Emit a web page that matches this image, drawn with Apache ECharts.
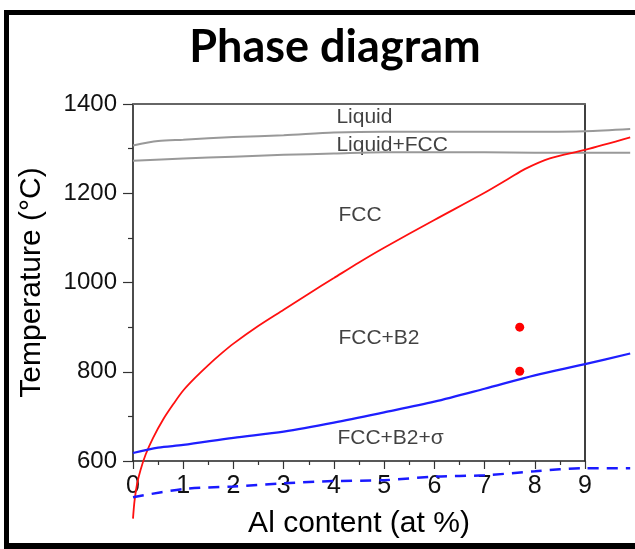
<!DOCTYPE html>
<html>
<head>
<meta charset="utf-8">
<script src="https://cdn.jsdelivr.net/npm/echarts@6/dist/echarts.min.js"></script>
<style>
  html, body { margin: 0; padding: 0; background: #fff; }
  #chart { width: 635px; height: 549px; }
</style>
</head>
<body>
<div id="chart"></div>
<script>
// x = Al content (at %), y = temperature (°C)
const liquidus = [[0, 1307], [0.5, 1317], [1, 1320], [2, 1326], [3, 1330], [4, 1336], [5, 1338], [6, 1338], [7, 1338], [8, 1338], [9, 1339], [9.9, 1344]];
const solidus = [[0, 1273], [1, 1278], [2, 1282], [3, 1286], [4, 1289], [5, 1292], [6, 1292], [7, 1292], [8, 1291], [9, 1291], [9.9, 1291]];
const b2Solvus = [[0, 471], [0.03, 510], [0.08, 548], [0.15, 580], [0.25, 614], [0.4, 652], [0.6, 693], [0.8, 727], [1, 758], [1.25, 788], [1.5, 815], [1.75, 840], [2, 863], [2.5, 903], [3, 939], [3.5, 975], [4, 1010], [4.5, 1045], [5, 1078], [6, 1140], [7, 1201], [7.5, 1234], [7.8, 1254], [8.3, 1278], [9, 1297], [9.9, 1325]];
const sigmaSolvus = [[0, 618], [0.5, 630], [1, 636], [2, 652], [3, 666], [4, 686], [5, 709], [6, 733], [7, 762], [8, 792], [9, 817], [9.9, 841]];
const lowerDashed = [[0, 519], [1, 537], [2, 543], [3, 550], [4, 555], [5, 557], [6, 565], [7, 568], [8, 577], [9, 584], [9.9, 584]];
const samples = [[7.7, 900], [7.7, 801]];
const regionLabels = [
  { name: 'Liquid', value: [4.05, 1371] },
  { name: 'Liquid+FCC', value: [4.05, 1308] },
  { name: 'FCC', value: [4.09, 1151] },
  { name: 'FCC+B2', value: [4.09, 875] },
  { name: 'FCC+B2+σ', value: [4.07, 651] }
];
const xTicks = [0, 1, 2, 3, 4, 5, 6, 7, 8, 9];
const yTicks = [600, 800, 1000, 1200, 1400];

const font = '"Liberation Sans", Arial, sans-serif';
const chart = echarts.init(document.getElementById('chart'));

// the curves run past x = 9, so they sit on a second, wider grid with the same scale
const plotLeft = 133, plotRight = 585, xMax = 9, xMaxData = 9.9;
const wideRight = 635 - (plotLeft + (plotRight - plotLeft) * xMaxData / xMax);

function curve(data, color, width, type) {
  return {
    type: 'line',
    xAxisIndex: 2,
    yAxisIndex: 2,
    data: data,
    smooth: 0.3,
    showSymbol: false,
    clip: false,
    silent: true,
    lineStyle: { color: color, width: width, type: type || 'solid' },
    z: 3
  };
}

const hidden = { show: false };

const option = {
  animation: false,
  backgroundColor: '#fff',
  title: {
    text: 'Phase diagram',
    left: 330,
    top: 20,
    textAlign: 'center',
    textStyle: { fontFamily: 'Lato, "Open Sans", sans-serif', fontWeight: 'bold', fontSize: 45, color: '#000' }
  },
  grid: [
    { left: plotLeft, right: 635 - plotRight, top: 104, bottom: 88 },
    { left: plotLeft, right: wideRight, top: 104, bottom: 88 }
  ],
  xAxis: [{
    type: 'value',
    min: 0, max: xMax, interval: 1,
    name: 'Al content (at %)',
    nameLocation: 'middle',
    nameGap: 48,
    nameTextStyle: { fontFamily: font, fontSize: 30, color: '#000' },
    axisLine: { onZero: false, lineStyle: { color: '#222', width: 1.5 } },
    axisTick: { length: 8, lineStyle: { color: '#333', width: 1.2 } },
    minorTick: { show: true, splitNumber: 2, length: 4, lineStyle: { color: '#333', width: 1.2 } },
    splitLine: { show: false },
    axisLabel: { margin: 13, fontFamily: font, fontSize: 25, color: '#111',
      formatter: v => xTicks.includes(v) ? String(v) : '' }
  }, {
    type: 'value', position: 'top', min: 0, max: xMax,
    axisLine: { onZero: false, lineStyle: { color: '#666', width: 2 } },
    axisTick: hidden, axisLabel: hidden, splitLine: hidden
  }, {
    type: 'value', gridIndex: 1, min: 0, max: xMaxData,
    axisLine: hidden, axisTick: hidden, axisLabel: hidden, splitLine: hidden
  }],
  yAxis: [{
    type: 'value',
    min: 600, max: 1400, interval: 200,
    name: 'Temperature (°C)',
    nameLocation: 'middle',
    nameGap: 86,
    nameTextStyle: { fontFamily: font, fontSize: 30, color: '#000' },
    axisLine: { onZero: false, lineStyle: { color: '#111', width: 1.5 } },
    axisTick: { length: 10, lineStyle: { color: '#333', width: 1.2 } },
    minorTick: { show: true, splitNumber: 2, length: 5, lineStyle: { color: '#333', width: 1.2 } },
    splitLine: { show: false },
    axisLabel: { margin: 16, fontFamily: font, fontSize: 24, color: '#111',
      formatter: v => yTicks.includes(v) ? String(v) : '' }
  }, {
    type: 'value', position: 'right', min: 600, max: 1400,
    axisLine: { onZero: false, lineStyle: { color: '#000', width: 1.5 } },
    axisTick: hidden, axisLabel: hidden, splitLine: hidden
  }, {
    type: 'value', gridIndex: 1, min: 600, max: 1400,
    axisLine: hidden, axisTick: hidden, axisLabel: hidden, splitLine: hidden
  }],
  series: [
    curve(liquidus, '#999', 2),
    curve(solidus, '#999', 2),
    curve(b2Solvus, '#ff1010', 1.8),
    curve(sigmaSolvus, '#1f1fff', 2.2),
    curve(lowerDashed, '#1a1aff', 2.5, [11, 8]),
    {
      type: 'scatter',
      data: samples,
      symbolSize: 9,
      itemStyle: { color: '#ff0000', opacity: 1 },
      z: 4
    },
    {
      type: 'scatter',
      data: regionLabels,
      symbolSize: 0,
      silent: true,
      label: {
        show: true,
        position: 'right',
        distance: 0,
        formatter: p => p.name,
        fontFamily: font,
        fontSize: 21,
        color: '#111'
      }
    }
  ],
  graphic: [
    { type: 'rect', shape: { x: 4, y: 10, width: 5, height: 539 }, style: { fill: '#000' }, silent: true },
    { type: 'rect', shape: { x: 4, y: 10, width: 631, height: 5 }, style: { fill: '#000' }, silent: true },
    { type: 'rect', shape: { x: 4, y: 543, width: 631, height: 6 }, style: { fill: '#000' }, silent: true }
  ]
};

chart.setOption(option);
</script>
</body>
</html>
